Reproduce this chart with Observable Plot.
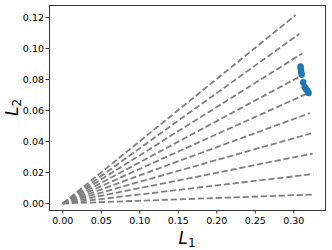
<!DOCTYPE html>
<html>
<head>
<meta charset="utf-8">
<script src="https://cdn.jsdelivr.net/npm/d3@7"></script>
<script src="https://cdn.jsdelivr.net/npm/@observablehq/plot@0.6"></script>
<style>
  html, body { margin: 0; padding: 0; background: white; }
</style>
</head>
<body>
<div id="chart"></div>
<script>
// Dashed ray end points (L1, L2); every ray starts at the origin
const rayEndL1 = [0.3259, 0.3254, 0.3244, 0.3228, 0.3207, 0.3181, 0.3150, 0.3113, 0.3071, 0.3025];
const rayEndL2 = [0.0058, 0.0190, 0.0322, 0.0453, 0.0583, 0.0711, 0.0838, 0.0969, 0.1094, 0.1216];

// Blue scatter points
const ptL1 = [0.3087, 0.3090, 0.3093, 0.3097, 0.3102, 0.3122, 0.3140, 0.3155, 0.3170, 0.3185, 0.3192];
const ptL2 = [0.0884, 0.0872, 0.0860, 0.0846, 0.0830, 0.0783, 0.0752, 0.0742, 0.0731, 0.0720, 0.0713];

const xTicks = [0, 0.05, 0.10, 0.15, 0.20, 0.25, 0.30];
const yTicks = [0, 0.02, 0.04, 0.06, 0.08, 0.10, 0.12];

const rays = rayEndL1.map((x, i) => ({x1: 0, y1: 0, x2: x, y2: rayEndL2[i]}));
const pts = ptL1.map((x, i) => ({x, y: ptL2[i]}));

const W = 332, H = 250, ML = 49, MR = 7, MT = 5, MB = 40;

const chart = Plot.plot({
  width: W, height: H,
  marginLeft: ML, marginRight: MR, marginTop: MT, marginBottom: MB,
  style: {fontFamily: "DejaVu Sans", fontSize: "9.5px", color: "black", background: "white"},
  x: {domain: [-0.01727, 0.34117], label: null},
  y: {domain: [-0.004516, 0.12774], label: null},
  marks: [
    Plot.link(rays, {x1: "x1", y1: "y1", x2: "x2", y2: "y2", stroke: "#808080", strokeWidth: 1.8, strokeDasharray: "6.2,2.8", strokeLinecap: "butt"}),
    Plot.dot(pts, {x: "x", y: "y", r: 3.2, fill: "#1f77b4", stroke: "none"}),
    Plot.frame({stroke: "#333", strokeWidth: 1}),
    Plot.axisX({ticks: xTicks, tickFormat: d3.format(".2f"), tickSize: 3.5, tickPadding: 3, stroke: "#333"}),
    Plot.axisY({ticks: yTicks, tickFormat: d3.format(".2f"), tickSize: 3.5, tickPadding: 2, stroke: "#333"})
  ]
});

document.getElementById("chart").appendChild(chart);

const svg = d3.select(chart);
const cx = ML + (W - ML - MR) / 2;
const cy = MT + (H - MT - MB) / 2;

const xl = svg.append("text")
  .attr("x", cx).attr("y", 244)
  .attr("text-anchor", "middle")
  .attr("font-family", "DejaVu Sans").attr("font-size", 17).attr("fill", "black");
xl.append("tspan").attr("font-style", "italic").text("L");
xl.append("tspan").attr("font-size", 12).attr("dy", 3).text("1");

const yl = svg.append("text")
  .attr("transform", `translate(18,${cy}) rotate(-90)`)
  .attr("text-anchor", "middle")
  .attr("font-family", "DejaVu Sans").attr("font-size", 17).attr("fill", "black");
yl.append("tspan").attr("font-style", "italic").text("L");
yl.append("tspan").attr("font-size", 12).attr("dy", 3).text("2");
</script>
</body>
</html>
